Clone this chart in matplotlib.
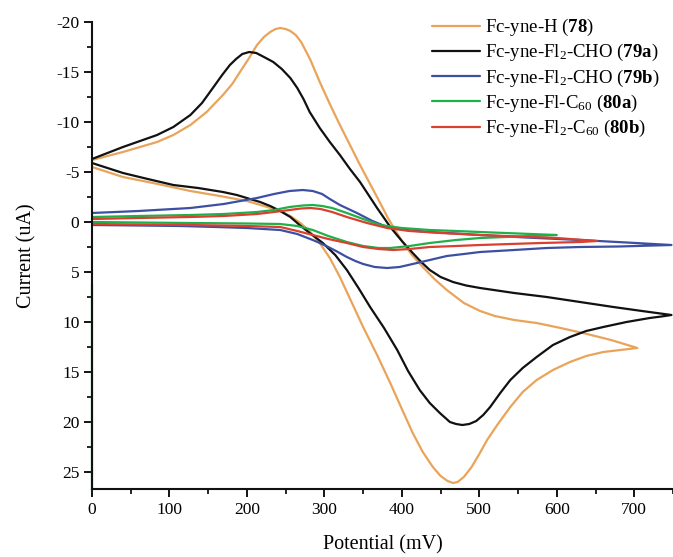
import matplotlib
matplotlib.use("Agg")
import matplotlib.pyplot as plt
from matplotlib.ticker import MultipleLocator

plt.rcParams['font.family'] = ['Liberation Serif', 'DejaVu Serif']
plt.rcParams['mathtext.fontset'] = 'custom'
plt.rcParams['mathtext.rm'] = 'Liberation Serif'
plt.rcParams['mathtext.it'] = 'Liberation Serif:italic'
plt.rcParams['mathtext.bf'] = 'Liberation Serif:bold'
plt.rcParams['axes.unicode_minus'] = False

# Cyclic voltammograms: potential (mV) and current (uA), forward then reverse sweep
pot_78 = [0, 20, 40, 62, 84, 105, 127, 148, 169, 181, 191, 202, 213, 222, 230, 237, 243, 250,
          256, 263, 270, 282, 294, 307, 320, 333, 346, 359, 372, 382, 392, 401, 413, 427, 442,
          458, 480, 501, 520, 545, 574, 605, 639, 670, 704,
          682, 660, 638, 617, 595, 574, 556, 540, 524, 510, 500, 490, 480, 472, 466, 459, 450,
          440, 427, 414, 400, 385, 368, 350, 335, 320, 307, 294, 282, 269, 256, 243, 222, 200,
          165, 127, 85, 40, 20, 0]
cur_78 = [-6.2, -6.6, -7.0, -7.5, -8.0, -8.7, -9.7, -11.0, -12.7, -13.8, -15.0, -16.3, -17.7,
          -18.5, -19.0, -19.3, -19.4, -19.3, -19.1, -18.7, -18.0, -16.2, -14.0, -11.8, -9.7,
          -7.7, -5.7, -3.8, -1.9, -0.4, 0.9, 2.0, 3.3, 4.5, 5.7, 6.8, 8.1, 8.9, 9.4, 9.8, 10.1,
          10.6, 11.2, 11.8, 12.6,
          12.8, 13.0, 13.4, 14.0, 14.8, 15.8, 17.0, 18.5, 20.2, 21.8, 23.2, 24.5, 25.5, 26.0,
          26.1, 25.9, 25.4, 24.5, 23.0, 21.1, 18.7, 16.1, 13.3, 10.5, 8.0, 5.5, 3.6, 2.1, 1.0,
          0.1, -0.6, -1.1, -1.6, -2.1, -2.6, -3.1, -3.8, -4.5, -5.0, -5.5]

pot_79a = [0, 20, 40, 62, 84, 105, 127, 142, 156, 168, 178, 186, 194, 203, 212, 222, 234, 245,
           256, 265, 273, 281, 294, 307, 320, 333, 346, 357, 368, 377, 385, 400, 414, 425, 436,
           450, 466, 483, 501, 545, 587, 630, 673, 710, 748,
           735, 720, 690, 660, 638, 617, 595, 574, 556, 540, 527, 514, 505, 496, 487, 478, 470,
           462, 449, 436, 423, 408, 394, 377, 359, 344, 329, 314, 298, 281, 268, 256, 243, 230,
           217, 204, 187, 169, 137, 105, 72, 40, 20, 0]
cur_79a = [-6.3, -6.9, -7.5, -8.1, -8.7, -9.5, -10.7, -11.9, -13.4, -14.7, -15.7, -16.3, -16.8,
           -17.0, -16.9, -16.5, -16.0, -15.3, -14.4, -13.4, -12.3, -11.0, -9.4, -8.0, -6.7,
           -5.3, -4.0, -2.7, -1.4, -0.4, 0.5, 1.9, 3.1, 4.0, 4.8, 5.5, 6.0, 6.35, 6.6, 7.1, 7.5,
           8.0, 8.5, 8.9, 9.3,
           9.45, 9.6, 10.0, 10.5, 10.9, 11.5, 12.3, 13.5, 14.6, 15.8, 17.1, 18.5, 19.3, 19.9,
           20.2, 20.3, 20.2, 20.0, 19.1, 18.1, 16.8, 14.9, 12.8, 10.6, 8.5, 6.6, 4.8, 3.3, 2.1,
           1.1, 0.3, -0.5, -1.1, -1.6, -2.0, -2.3, -2.7, -3.0, -3.4, -3.7, -4.3, -4.9, -5.4,
           -5.9]

pot_79b = [0, 60, 127, 170, 213, 235, 255, 272, 285, 297, 307, 320, 342, 362, 381, 405, 436,
           470, 501, 560, 630, 690, 748,
           680, 630, 587, 545, 501, 480, 458, 436, 414, 397, 381, 365, 350, 340, 329, 315, 300,
           285, 265, 243, 200, 160, 114, 60, 0]
cur_79b = [-0.9, -1.1, -1.4, -1.8, -2.4, -2.8, -3.1, -3.2, -3.1, -2.8, -2.3, -1.7, -0.9, -0.1,
           0.5, 0.8, 1.0, 1.15, 1.3, 1.55, 1.8, 2.05, 2.3,
           2.45, 2.5, 2.6, 2.8, 3.0, 3.2, 3.4, 3.8, 4.2, 4.5, 4.6, 4.5, 4.2, 3.9, 3.5, 2.9, 2.3,
           1.8, 1.2, 0.8, 0.6, 0.5, 0.4, 0.35, 0.3]

pot_80a = [0, 60, 127, 170, 213, 235, 255, 272, 285, 297, 310, 329, 350, 372, 400, 436, 470,
           501, 550, 600,
           550, 501, 470, 436, 410, 385, 370, 350, 329, 305, 285, 265, 243, 200, 127, 60, 0]
cur_80a = [-0.5, -0.6, -0.7, -0.8, -1.0, -1.2, -1.5, -1.65, -1.7, -1.6, -1.4, -0.9, -0.3, 0.3,
           0.6, 0.8, 0.9, 1.0, 1.15, 1.3,
           1.45, 1.6, 1.8, 2.1, 2.4, 2.6, 2.6, 2.4, 2.0, 1.4, 0.8, 0.4, 0.2, 0.15, 0.1, 0.05,
           0.0]

pot_80b = [0, 60, 127, 170, 213, 235, 255, 270, 282, 295, 310, 329, 355, 381, 410, 450, 501,
           550, 600, 652,
           630, 580, 540, 501, 470, 436, 410, 389, 370, 350, 329, 305, 285, 265, 243, 200, 127,
           60, 0]
cur_80b = [-0.3, -0.4, -0.5, -0.6, -0.8, -1.0, -1.2, -1.35, -1.4, -1.3, -1.0, -0.5, 0.1, 0.6,
           0.9, 1.1, 1.3, 1.45, 1.6, 1.9,
           2.0, 2.1, 2.2, 2.3, 2.4, 2.5, 2.7, 2.8, 2.7, 2.5, 2.1, 1.7, 1.3, 0.9, 0.5, 0.4, 0.3,
           0.25, 0.2]

labels = [r'Fc-yne-H ($\mathbf{78}$)',
          r'Fc-yne-Fl$_2$-CHO ($\mathbf{79a}$)',
          r'Fc-yne-Fl$_2$-CHO ($\mathbf{79b}$)',
          r'Fc-yne-Fl-C$_{60}$ ($\mathbf{80a}$)',
          r'Fc-yne-Fl$_2$-C$_{60}$ ($\mathbf{80b}$)']
colors = ['#E9A45A', '#111111', '#3D4FA3', '#1FB04A', '#D8402F']

x_ticks = [0, 100, 200, 300, 400, 500, 600, 700]
y_ticks = [-20, -15, -10, -5, 0, 5, 10, 15, 20, 25]

fig = plt.figure(figsize=(6.73, 5.57), dpi=100)
ax = fig.add_axes([92 / 673, 68 / 557, 1 - 92 / 673, (489 - 22) / 557])

series = [(pot_78, cur_78), (pot_79a, cur_79a), (pot_79b, cur_79b),
          (pot_80a, cur_80a), (pot_80b, cur_80b)]
for (p, c), lab, col in zip(series, labels, colors):
    ax.plot(p, c, color=col, lw=1.6, label=lab,
            solid_joinstyle='round', solid_capstyle='round')

ax.set_xlim(0, 750)
ax.set_ylim(26.7, -20)
ax.set_xticks(x_ticks)
ax.set_yticks(y_ticks)
ax.xaxis.set_minor_locator(MultipleLocator(50))
ax.yaxis.set_minor_locator(MultipleLocator(2.5))
ax.tick_params(which='major', direction='out', length=6, width=1.3, labelsize=12.5, pad=3)
ax.tick_params(which='minor', direction='out', length=3.5, width=1.2)

for side in ('top', 'right'):
    ax.spines[side].set_visible(False)
for side in ('left', 'bottom'):
    ax.spines[side].set_linewidth(1.5)
    ax.spines[side].set_color('#111111')

# green trace running down the potential origin
frac = (26.7 - 6.3) / 46.7
ax.axvline(0, ymin=0, ymax=frac, color='#1FB04A', lw=1.6, clip_on=False)

ax.set_xlabel('Potential (mV)', fontsize=14.5, labelpad=13)
ax.set_ylabel('Current (uA)', fontsize=14.5, labelpad=14)

leg = ax.legend(loc='upper left', bbox_to_anchor=(432 / 673, 1 - 17 / 557),
                bbox_transform=fig.transFigure, frameon=False, fontsize=13.5,
                handlelength=2.55, handletextpad=0.3, labelspacing=0.22,
                borderpad=0, borderaxespad=0)

fig.savefig('out.png', dpi=100)
